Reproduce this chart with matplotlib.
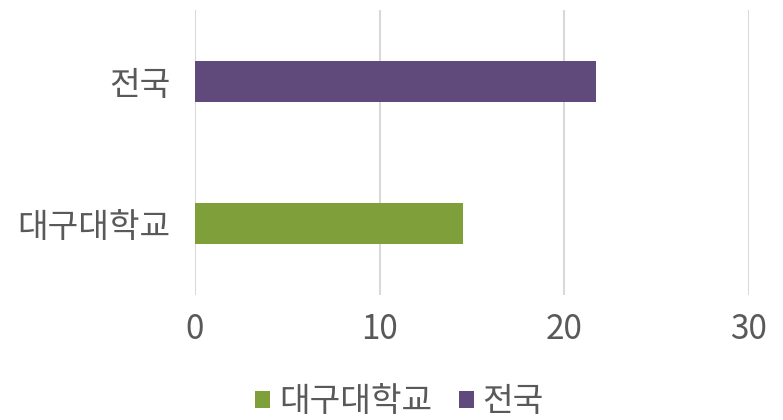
import matplotlib.pyplot as plt

categories = ["대구대학교", "전국"]
values = [14.5, 21.7]
colors = ["#7f9f3b", "#604a7b"]
xticks = [0, 10, 20, 30]

plt.rcParams["font.family"] = ["Noto Sans CJK KR", "DejaVu Sans"]

fig = plt.figure(figsize=(7.83, 4.2), dpi=100)
ax = fig.add_axes([195 / 783, 1 - 295 / 420, (749 - 195) / 783, 285 / 420])

handles = []
for i, (cat, val, col) in enumerate(zip(categories, values, colors)):
    h = ax.barh(i, val, height=0.29, color=col, label=cat, zorder=3)
    handles.append(h)

ax.set_xlim(0, 30)
ax.set_ylim(-0.5, 1.5)
ax.set_xticks(xticks)
ax.set_yticks(range(len(categories)))
ax.set_yticklabels(categories)
ax.tick_params(axis="both", length=0, labelsize=24, colors="#595959")
ax.tick_params(axis="x", pad=12)
ax.tick_params(axis="y", pad=18)
ax.grid(axis="x", color="#d9d9d9", linewidth=1.5, zorder=0)
for s in ax.spines.values():
    s.set_visible(False)

fig.legend(handles=handles, loc="lower center", ncol=2, frameon=False,
           fontsize=24, labelcolor="#595959", handlelength=0.45,
           handleheight=0.45, handletextpad=0.25, columnspacing=0.8,
           bbox_to_anchor=(0.51, -0.07))

fig.savefig("out.png", dpi=100)
